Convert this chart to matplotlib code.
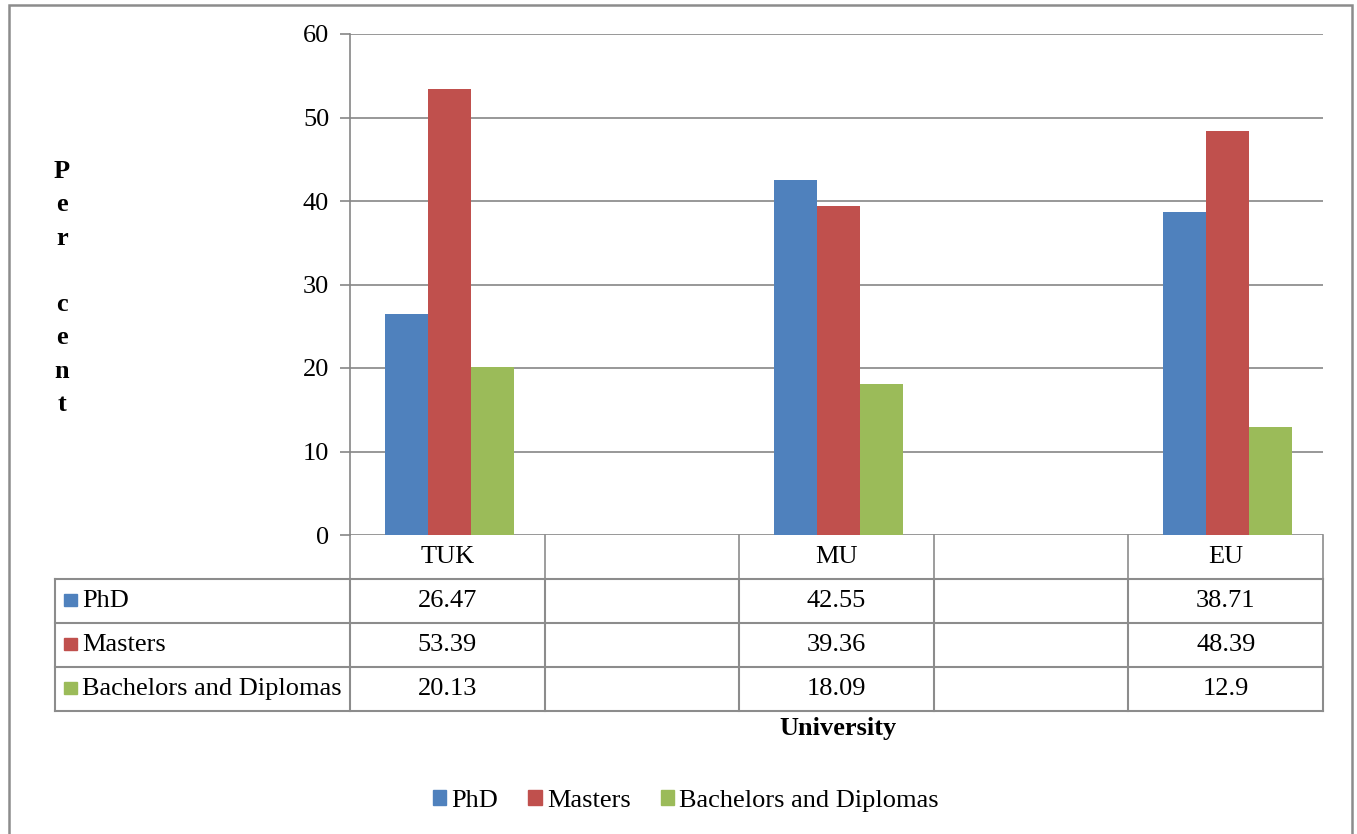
import matplotlib.pyplot as plt
from matplotlib.patches import Rectangle
import matplotlib.transforms as mtransforms

plt.rcParams['font.family'] = ['Liberation Serif', 'DejaVu Serif']

# data: blank columns sit between the universities
categories = ["TUK", "", "MU", "", "EU"]
phd = [26.47, None, 42.55, None, 38.71]
masters = [53.39, None, 39.36, None, 48.39]
bachelors = [20.13, None, 18.09, None, 12.9]
series_names = ["PhD", "Masters", "Bachelors and Diplomas"]
colors = ["#4F81BD", "#C0504D", "#9BBB59"]
y_ticks = [0, 10, 20, 30, 40, 50, 60]

series = [phd, masters, bachelors]
grid_col = "#868686"
fs = 19

fig = plt.figure(figsize=(13.57, 8.34), dpi=100)
ax = fig.add_axes([350 / 1357, 1 - 535 / 834, 973 / 1357, 501 / 834])

bw = 0.221
for i, (vals, col) in enumerate(zip(series, colors)):
    xs = [k + 0.01 + (i - 1) * bw for k, v in enumerate(vals) if v is not None]
    hs = [v for v in vals if v is not None]
    ax.bar(xs, hs, width=bw, color=col, zorder=3)

ax.set_xlim(-0.5, len(categories) - 0.5)
ax.set_ylim(0, 60)
ax.set_yticks(y_ticks)
ax.set_xticks([])
ax.yaxis.grid(True, color=grid_col, lw=1.2, zorder=0)
for s in ["top", "right", "bottom"]:
    ax.spines[s].set_visible(False)
ax.spines["left"].set_color(grid_col)
ax.spines["left"].set_linewidth(1.2)
ax.tick_params(axis="y", length=7, width=1.2, color=grid_col, labelsize=fs, pad=8)

# data table under the plot
trans = mtransforms.blended_transform_factory(ax.transData, ax.transAxes)
row_h = 44 / 501
px = 1 / 194.6  # one pixel in category units
left_x = -0.5 - 295 * px
right_x = len(categories) - 0.5
tbl_col = "#8c8c8c"

def hline(y, x0, x1, lw=1.5):
    ax.plot([x0, x1], [y, y], color=tbl_col, lw=lw, transform=trans, clip_on=False)

def vline(x, y0, y1, lw=1.5):
    ax.plot([x, x], [y0, y1], color=tbl_col, lw=lw, transform=trans, clip_on=False)

# header row with category names
hline(-row_h, left_x, right_x)
for k in range(len(categories) + 1):
    vline(k - 0.5, 0, -row_h, lw=1.2)
for k, c in enumerate(categories):
    ax.text(k, -row_h / 2, c, transform=trans, ha="center", va="center", fontsize=fs)

# series rows
for r, (name, vals, col) in enumerate(zip(series_names, series, colors)):
    y_top = -row_h * (r + 1)
    y_bot = -row_h * (r + 2)
    hline(y_bot, left_x, right_x)
    yc = (y_top + y_bot) / 2
    for k, v in enumerate(vals):
        if v is not None:
            ax.text(k, yc, f"{v:g}", transform=trans, ha="center", va="center", fontsize=fs)
    ax.add_patch(Rectangle((left_x + 9 * px, yc - 0.01), 13 * px, 0.024, transform=trans,
                           color=col, clip_on=False))
    ax.text(left_x + 27 * px, yc, name, transform=trans, ha="left", va="center", fontsize=fs)
vline(left_x, -row_h, -row_h * 4)
for k in range(len(categories) + 1):
    vline(k - 0.5, -row_h, -row_h * 4)

# axis titles
fig.text(838 / 1357, 1 - 729 / 834, "University", ha="center", va="center",
         fontsize=fs, fontweight="bold")
fig.text(62 / 1357, 1 - 288 / 834, "P\ne\nr\n\nc\ne\nn\nt", ha="center", va="center",
         fontsize=fs, fontweight="bold", linespacing=1.57, multialignment="center")

# legend
handles = [Rectangle((0, 0), 1, 1, color=c) for c in colors]
fig.legend(handles, series_names, loc="center", bbox_to_anchor=(686 / 1357, 1 - 801 / 834),
           ncol=3, frameon=False, fontsize=fs, handlelength=0.5, handleheight=0.5,
           handletextpad=0.2, columnspacing=1.15)

# outer chart frame
fig.patches.append(Rectangle((9 / 1357, -0.05), 1343 / 1357, 1 - 5 / 834 + 0.05,
                             transform=fig.transFigure, fill=False, ec="#8c8c8c", lw=1.8))

fig.savefig("out.png", dpi=100)
